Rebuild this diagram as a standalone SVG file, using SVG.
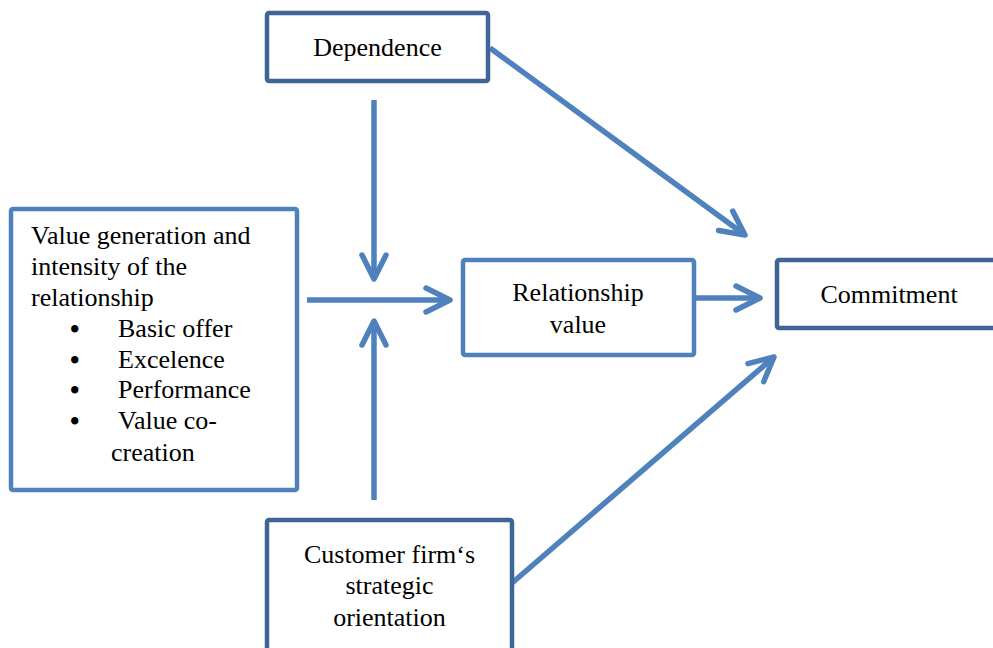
<svg xmlns="http://www.w3.org/2000/svg" width="993" height="648" viewBox="0 0 993 648">
<style>
.dark{fill:#fff;stroke:#3f6496;stroke-width:4.5}
.light{fill:#fff;stroke:#4f81bd;stroke-width:4.5}
text{font-family:"Liberation Serif","Times New Roman",serif;font-size:26px;fill:#000}
.c{text-anchor:middle}
.b{font-size:27px;font-weight:bold}
.conn line{stroke:#4f81bd;stroke-width:5.5;marker-end:url(#ah)}
</style>
<defs>
<marker id="ah" markerUnits="userSpaceOnUse" markerWidth="40" markerHeight="40" viewBox="-30 -20 40 40" refX="0" refY="0" orient="auto" overflow="visible">
<path d="M-24,-12 L0,0 L-24,12" fill="none" stroke="#4f81bd" stroke-width="5.5" stroke-linecap="round" stroke-linejoin="round"/>
</marker>
</defs>
<rect width="993" height="648" fill="#fff"/>
<g class="conn" id="connectors">
<line x1="374" y1="100" x2="374" y2="279"/>
<line x1="374" y1="500" x2="374" y2="321"/>
<line x1="307" y1="300" x2="450" y2="300"/>
<line x1="694" y1="298" x2="760" y2="298"/>
<line x1="490" y1="48" x2="745" y2="235"/>
<line x1="512" y1="583" x2="774" y2="357"/>
</g>
<g id="dependence">
<rect class="dark" x="267" y="13" width="221" height="68" rx="2"/>
<text class="c" x="377.5" y="56">Dependence</text>
</g>
<g id="value-generation">
<rect class="light" x="11" y="209" width="286" height="281" rx="2"/>
<text x="31" y="244">Value generation and</text>
<text x="31" y="275">intensity of the</text>
<text x="31" y="306">relationship</text>
<text class="b" x="70" y="338">•</text><text x="118" y="337">Basic offer</text>
<text class="b" x="70" y="369">•</text><text x="118" y="368">Excelence</text>
<text class="b" x="70" y="399">•</text><text x="118" y="398">Performance</text>
<text class="b" x="70" y="430">•</text><text x="118" y="429">Value co-</text>
<text x="111" y="461">creation</text>
</g>
<g id="relationship-value">
<rect class="light" x="463" y="260" width="231" height="95" rx="2"/>
<text class="c" x="578" y="301">Relationship</text>
<text class="c" x="578" y="333">value</text>
</g>
<g id="commitment">
<rect class="dark" x="777" y="260" width="230" height="68" rx="2"/>
<text class="c" x="889" y="303">Commitment</text>
</g>
<g id="customer">
<rect class="dark" x="267" y="520" width="245" height="150" rx="2"/>
<text class="c" x="389.5" y="563">Customer firm‘s</text>
<text class="c" x="389.5" y="594">strategic</text>
<text class="c" x="389.5" y="626">orientation</text>
</g>
</svg>
